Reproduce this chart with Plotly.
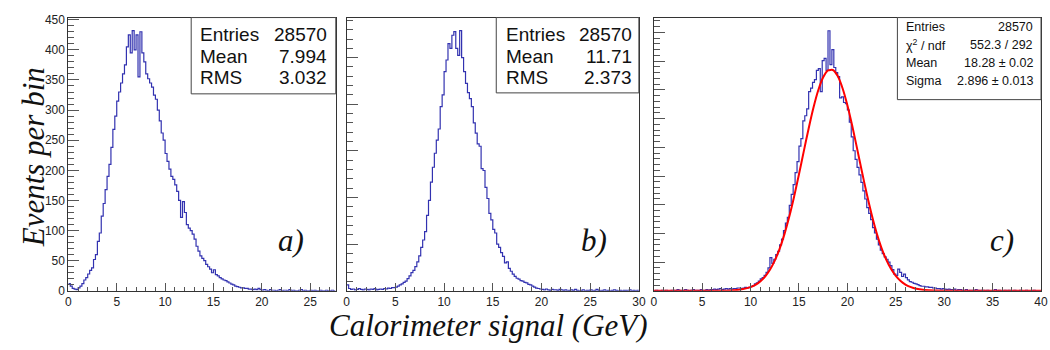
import plotly.graph_objects as go

W, H = 1050, 350

# ---------------- data (bin width 0.2 GeV, counts) ----------------
BIN = 0.2

a_counts = [
    12, 8, 4, 3, 2, 5, 8, 12, 18, 22,
    28, 34, 38, 52, 60, 82, 96, 124, 145, 168,
    190, 210, 238, 268, 290, 315, 330, 345, 360, 375,
    405, 425, 395, 432, 400, 425, 355, 430, 395, 380,
    360, 352, 345, 338, 325, 318, 300, 282, 262, 250,
    228, 215, 202, 190, 185, 176, 165, 150, 122, 148,
    130, 110, 104, 100, 94, 86, 74, 66, 58, 54,
    50, 44, 40, 36, 30, 35, 27, 25, 22, 20,
    18, 17, 15, 13, 11, 10, 8, 7, 6, 5,
    5, 4, 4, 3, 3, 2, 3, 2, 4, 2,
    1, 2, 1, 0, 2, 1, 1, 0, 1, 2,
    0, 1, 1, 0, 2, 0, 1, 0, 0, 1,
    2, 0, 1, 0, 0, 1, 0, 1, 0, 0,
    1, 0, 0, 1, 0, 0, 1, 0,
]

b_counts = [
    13, 5, 3, 4, 2, 3, 5, 3, 2, 4,
    3, 2, 4, 3, 5, 2, 3, 4, 3, 5,
    4, 6, 5, 7, 7, 8, 10, 13, 15, 18,
    21, 26, 32, 39, 44, 52, 62, 75, 93, 109,
    127, 162, 194, 233, 265, 295, 323, 347, 395, 420,
    470, 495, 530, 520, 548, 556, 520, 505, 558, 500,
    470, 445, 425, 412, 395, 360, 338, 315, 310, 262,
    258, 222, 198, 166, 152, 132, 124, 100, 93, 82,
    74, 60, 62, 48, 42, 36, 31, 27, 25, 22,
    21, 18, 17, 14, 13, 10, 8, 6, 5, 4,
    3, 2, 4, 2, 1, 3, 2, 2, 1, 3,
    2, 1, 2, 0, 1, 2, 1, 3, 1, 0,
    1, 2, 0, 1, 1, 2, 0, 1, 3, 1,
    0, 1, 2, 0, 1, 0, 1, 2, 1, 0,
    1, 0, 1, 1, 0, 2, 0, 1, 0, 1,
]

c_counts = [
    0, 1, 0, 0, 1, 0, 1, 0, 0, 1,
    1, 0, 2, 1, 0, 1, 2, 1, 0, 1,
    2, 1, 1, 0, 2, 1, 1, 2, 1, 2,
    2, 3, 2, 3, 4, 2, 3, 4, 3, 4,
    3, 4, 4, 5, 5, 4, 5, 6, 5, 6,
    8, 9, 12, 14, 17, 21, 23, 27, 32, 40,
    58, 48, 55, 63, 69, 80, 90, 105, 118, 128,
    149, 168, 185, 206, 225, 252, 265, 296, 305, 317,
    347, 353, 363, 368, 384, 387, 347, 401, 405, 384,
    453, 394, 420, 389, 380, 373, 336, 338, 328, 326,
    315, 294, 268, 244, 229, 215, 202, 189, 174, 160,
    145, 135, 124, 110, 101, 90, 80, 71, 65, 59,
    55, 50, 44, 37, 29, 27, 38, 32, 25, 29,
    23, 19, 16, 15, 13, 12, 11, 9, 8, 8,
    7, 7, 6, 6, 5, 5, 4, 4, 3, 4,
    3, 2, 3, 2, 2, 3, 1, 2, 2, 1,
    1, 2, 0, 1, 1, 0, 2, 1, 0, 1,
    1, 0, 1, 0, 0, 1, 2, 0, 1, 0,
    0, 1, 0, 1, 0, 0, 1, 0, 0, 1,
    0, 0, 1, 0, 0, 0, 1, 0, 0, 0,
]

fit_x = [0, 5, 8, 9, 10, 10.5, 11, 11.5, 12, 12.5, 13, 13.5, 14, 14.5, 15, 15.5,
         16, 16.5, 17, 17.5, 18, 18.5, 19, 19.5, 20, 20.5, 21, 21.5, 22, 22.5,
         23, 23.5, 24, 24.5, 25, 25.5, 26, 26.5, 27, 28, 29, 30, 35, 40]
fit_y = [0, 0, 0.8, 2.3, 6.5, 10.4, 16.4, 24.9, 36.7, 52.7, 73.2, 98.8, 129.4, 164.5,
         203.1, 243.3, 282.9, 319.3, 349.8, 372.0, 383.9, 384.6, 374.0, 352.9, 323.4,
         287.6, 248.1, 207.8, 169.0, 133.4, 102.2, 76.0, 54.9, 38.4, 26.1, 17.2, 11.0,
         6.8, 4.1, 1.4, 0.4, 0.1, 0, 0]

x_ranges = [27.65, 30, 40]
y_ranges = [453.6, 586, 476]
y_dticks = [50, 100, 50]

stats_a = [("Entries", "28570"), ("Mean", "7.994"), ("RMS", "3.032")]
stats_b = [("Entries", "28570"), ("Mean", "11.71"), ("RMS", "2.373")]
stats_c = [("Entries", "28570"), ("χ<sup>2</sup> / ndf", "552.3 / 292"),
           ("Mean", "18.28 ± 0.02"), ("Sigma", "2.896 ± 0.013")]

panel_labels = ["a)", "b)", "c)"]
x_title = "Calorimeter signal (GeV)"
y_title = "Events per bin"

assert len(a_counts) == 138 and len(b_counts) == 150 and len(c_counts) == 200

# ---------------- figure ----------------
def px(x):
    return x / W

def py(y):
    return 1 - y / H

def step(counts):
    xs = [i * BIN for i in range(len(counts) + 1)]
    ys = list(counts) + [counts[-1]]
    return xs, ys

HIST_COLOR = "#3232b0"
FRAME = "#333333"
TICKC = "#555555"

fig = go.Figure()
for i, counts in enumerate([a_counts, b_counts, c_counts]):
    xs, ys = step(counts)
    sfx = "" if i == 0 else str(i + 1)
    fig.add_trace(go.Scatter(x=xs, y=ys, mode="lines", line=dict(color=HIST_COLOR, width=1.2, shape="hv"),
                             xaxis="x" + sfx, yaxis="y" + sfx, showlegend=False, hoverinfo="skip"))

fig.add_trace(go.Scatter(x=fit_x, y=fit_y, mode="lines", line=dict(color="#ff0000", width=2, shape="spline", smoothing=0.6),
                         xaxis="x3", yaxis="y3", showlegend=False, hoverinfo="skip"))

x_domains = [(66, 336), (347, 642), (657, 1048)]
y_dom = [py(296), py(13)]

layout = dict(
    width=W, height=H, margin=dict(l=0, r=0, t=0, b=0),
    paper_bgcolor="white", plot_bgcolor="white", showlegend=False,
)
for i in range(3):
    sfx = "" if i == 0 else str(i + 1)
    layout["xaxis" + sfx] = dict(
        domain=[px(x_domains[i][0]), px(x_domains[i][1])], anchor="y" + sfx,
        range=[0, x_ranges[i]], showgrid=False, zeroline=False,
        showline=True, mirror=True, linecolor=FRAME, linewidth=1,
        ticks="inside", ticklen=8, tickcolor=TICKC, tickwidth=1, tick0=0, dtick=5,
        minor=dict(ticks="inside", ticklen=4, dtick=1, tickcolor=TICKC, showgrid=False),
        tickfont=dict(family="Liberation Sans, Arial", size=12, color="#222"),
    )
    layout["yaxis" + sfx] = dict(
        domain=y_dom, anchor="x" + sfx,
        range=[0, y_ranges[i]], showgrid=False, zeroline=False,
        showline=True, mirror=True, linecolor=FRAME, linewidth=1,
        ticks="inside", ticklen=11, tickcolor=TICKC, tickwidth=1, tick0=0, dtick=y_dticks[i],
        minor=dict(ticks="inside", ticklen=6, dtick=y_dticks[i] / 5, tickcolor=TICKC, showgrid=False),
        showticklabels=(i == 0),
        tickfont=dict(family="Liberation Sans, Arial", size=12, color="#222"),
    )
fig.update_layout(**layout)

# stat boxes
shapes = []
annotations = []
boxes = [
    (stats_a, (190, 13, 336, 92), 197, 329, [31, 53, 75], 19),
    (stats_b, (498, 13, 642, 91), 506, 637, [31, 53, 75], 19),
    (stats_c, (903, 13, 1048, 98), 910, 1042, [23, 41, 60.5, 79], 12.5),
]
for stats, (x0, y0, x1, y1), lx, rx, rows, fs in boxes:
    shapes.append(dict(type="rect", xref="paper", yref="paper", x0=px(x0), y0=py(y1), x1=px(x1), y1=py(y0),
                       line=dict(color="#444", width=1), fillcolor="white", layer="above"))
    for (lab, val), ry in zip(stats, rows):
        annotations.append(dict(xref="paper", yref="paper", x=px(lx), y=py(ry), text=lab, showarrow=False,
                                xanchor="left", yanchor="middle",
                                font=dict(family="Liberation Sans, Arial", size=fs, color="#111")))
        annotations.append(dict(xref="paper", yref="paper", x=px(rx), y=py(ry), text=val, showarrow=False,
                                xanchor="right", yanchor="middle",
                                font=dict(family="Liberation Sans, Arial", size=fs, color="#111")))

serif = dict(family="Liberation Serif, Times New Roman", size=31, color="#111", style="italic")
for lab, (cx, cy) in zip(panel_labels, [(291, 244), (597, 244), (1009, 244)]):
    annotations.append(dict(xref="paper", yref="paper", x=px(cx), y=py(cy), text=lab, showarrow=False,
                            xanchor="center", yanchor="middle", font=serif))

annotations.append(dict(xref="paper", yref="paper", x=px(490), y=py(332), text=x_title, showarrow=False,
                        xanchor="center", yanchor="middle", font=serif))
annotations.append(dict(xref="paper", yref="paper", x=px(31), y=py(158), text=y_title, showarrow=False,
                        xanchor="center", yanchor="middle", textangle=-90, font=serif))

fig.update_layout(shapes=shapes, annotations=annotations)
fig.write_html("out.html")
